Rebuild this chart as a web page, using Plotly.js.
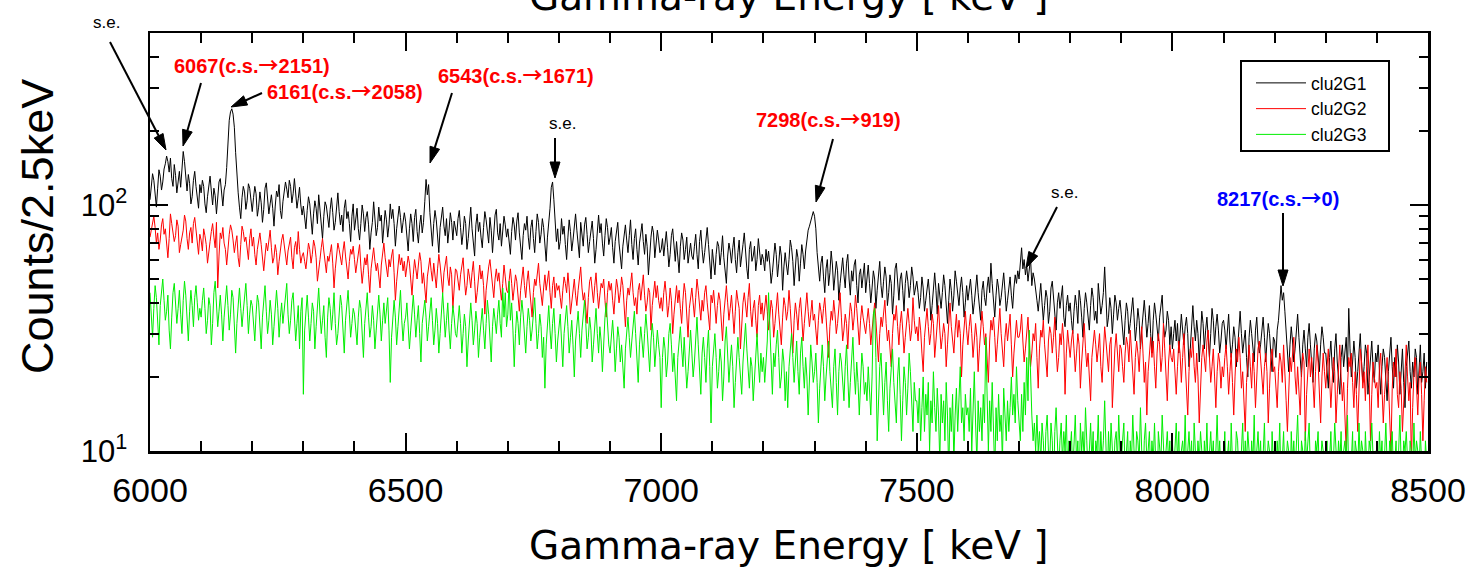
<!DOCTYPE html>
<html><head><meta charset="utf-8">
<script src="https://cdn.plot.ly/plotly-3.0.1.min.js"></script>
<style>html,body{margin:0;padding:0;background:#fff;}#chart{width:1474px;height:570px;}</style>
</head><body><div id="chart"></div>
<script>
// ---- data: counts per 2.5 keV bin ----
const binStartKeV = 6000;
const binWidthKeV = 2.5;
const seriesNames = ['clu2G1', 'clu2G2', 'clu2G3'];
const seriesColors = ['#000000', '#ff0000', '#00ee00'];

const clu2G1 = [
105,121,134,126,110,98,117,139,131,115,124,140,147,158,150,136,155,128,119,146,132,112,124,137,118,145,165,150,127,114,133,122,101,108,126,137,119,104,97,121,
112,126,119,101,93,108,123,131,114,100,117,109,92,105,124,128,111,99,115,121,142,183,221,239,246,234,207,163,130,112,98,88,107,119,113,96,104,122,117,101,
94,107,119,111,90,98,113,102,85,96,117,123,105,92,101,110,97,82,99,114,108,121,95,88,103,112,124,116,107,126,119,102,111,128,109,97,106,118,100,91,
99,87,80,95,108,101,89,76,92,104,97,84,110,95,86,73,90,103,99,88,81,96,107,93,79,85,100,112,94,83,91,78,97,105,88,94,84,71,90,101,
79,87,97,80,72,84,100,92,78,89,94,83,66,77,85,103,90,75,81,98,86,91,70,79,95,87,74,83,101,88,96,84,68,80,92,99,89,77,85,93,
86,74,65,80,92,84,71,89,96,78,70,83,91,77,85,103,127,110,121,93,79,68,84,95,87,73,64,81,90,98,82,75,88,70,79,93,85,72,86,80,
75,88,95,81,69,77,90,84,66,73,86,98,80,71,62,83,92,78,85,74,67,81,94,87,76,70,89,79,64,82,91,96,77,72,84,68,79,90,83,74,
80,71,63,78,89,83,72,86,93,77,68,60,75,84,79,90,74,66,81,87,73,64,78,92,85,70,76,88,81,67,59,74,83,97,118,124,105,86,71,80,
66,71,88,76,82,69,60,74,87,78,65,72,81,92,79,70,61,85,74,68,83,89,76,64,71,80,86,73,58,66,79,91,77,84,70,62,75,88,81,69,
74,81,67,58,71,79,85,70,62,55,68,77,83,72,64,75,87,69,60,73,80,66,57,70,78,84,71,63,76,68,52,65,74,82,77,61,69,79,72,64,
66,73,62,70,78,67,56,63,75,80,65,59,71,61,53,68,77,72,60,66,74,58,64,70,62,60,68,76,63,55,71,79,66,58,64,74,81,69,57,50,
66,59,52,63,71,68,57,64,75,61,54,48,62,70,65,58,67,74,60,53,64,72,56,61,69,77,63,55,50,66,71,59,62,68,54,60,73,65,57,63,
60,54,66,59,65,57,48,53,61,70,63,51,58,68,62,45,56,64,57,52,60,72,67,59,47,54,66,61,49,58,69,63,55,65,73,79,82,86,90,94,
90,80,64,56,49,58,62,51,44,55,60,47,53,65,57,45,50,59,54,41,48,56,61,52,46,58,63,50,43,54,49,57,60,47,40,52,55,46,51,58,
44,52,57,48,40,46,54,50,38,45,53,59,47,42,49,56,51,39,44,52,48,36,43,55,58,46,41,50,53,45,37,48,54,49,42,47,56,51,43,46,
49,44,38,42,51,46,37,41,45,50,43,34,39,47,53,45,36,48,42,38,44,52,47,40,33,41,50,45,37,43,54,49,42,39,46,51,44,35,40,47,
41,46,50,43,36,40,47,52,44,38,34,45,49,42,39,46,51,44,58,48,40,35,43,50,46,39,42,48,53,45,37,41,47,51,43,38,46,52,48,54,
50,58,67,55,60,52,57,49,56,61,47,53,50,44,41,37,44,48,40,34,39,45,42,33,37,46,49,41,36,31,40,44,38,42,47,35,32,39,43,37,
40,34,30,37,43,39,33,45,41,35,29,38,44,40,36,31,39,46,42,34,37,33,48,41,36,39,44,56,40,32,35,42,38,30,36,43,40,34,38,41,
36,31,27,34,40,37,30,33,39,42,35,28,32,38,34,26,31,37,41,35,29,33,39,30,25,34,40,36,32,28,35,38,43,33,29,31,37,34,27,32,
26,30,34,28,33,25,29,36,31,27,32,35,30,22,26,31,39,32,28,34,30,23,29,37,33,26,31,35,29,24,30,38,34,27,32,36,31,25,28,33,
34,31,26,30,36,28,24,27,32,29,22,26,33,37,30,25,28,31,24,20,29,34,30,27,23,31,35,28,25,27,32,35,29,23,28,33,30,25,21,29,
28,24,31,34,40,47,41,44,37,30,25,21,27,32,28,23,26,30,36,29,24,20,27,31,26,22,29,33,27,23,19,26,30,28,24,21,27,32,29,25,
25,21,18,24,28,22,19,26,30,23,20,17,24,27,22,25,29,21,38,26,20,23,28,24,18,21,26,30,23,19,22,27,25,17,20,24,28,22,19,25,
23,27,20,17,22,26,24,19,16,21,25,29,22,18,24,20,27,23,17,21,26,19,15,22,25,28,21,18,23,20,26,24,17,22,27,19,21,25,18,23
];

const clu2G2 = [
74,79,85,90,81,70,77,66,72,83,88,76,80,68,61,73,92,84,78,71,75,87,82,64,69,74,79,91,86,73,66,77,81,70,84,89,80,72,63,76,
72,65,80,75,69,58,63,71,78,84,74,67,85,46,62,77,73,81,70,66,57,68,76,83,79,72,64,70,75,61,56,69,82,78,71,74,67,60,73,80,
68,74,63,57,66,71,77,69,60,54,62,70,65,73,79,67,58,61,69,64,52,59,66,72,76,68,63,57,65,70,74,61,55,67,71,63,78,66,58,62,
64,59,55,62,70,66,58,63,72,68,61,49,56,60,67,73,65,57,53,62,59,64,69,58,46,55,63,70,66,60,57,65,71,62,54,50,59,66,63,68,
60,53,58,65,69,56,48,54,61,57,63,52,44,55,62,67,59,54,58,50,46,57,64,70,61,55,51,60,56,62,66,53,41,49,58,63,57,61,54,59,
51,56,62,58,47,43,52,60,55,50,57,64,59,48,53,45,40,51,56,61,54,49,58,52,46,55,63,57,50,44,53,59,62,51,47,56,52,38,49,55,
54,48,45,52,58,61,50,43,47,55,51,46,53,59,49,40,44,52,57,50,54,47,36,45,51,56,60,52,48,42,50,55,49,53,46,41,48,57,51,45,
44,50,55,48,41,46,52,49,43,37,45,51,56,47,42,49,54,46,40,35,44,50,47,53,58,48,43,39,46,52,45,49,54,44,38,47,51,42,48,45,
47,42,38,45,51,48,44,53,46,36,41,47,50,43,39,45,52,56,46,41,44,37,33,42,49,51,45,40,47,53,44,38,43,48,46,50,41,35,44,49,
45,48,41,36,43,50,46,40,44,51,47,38,32,41,46,43,49,53,44,39,42,36,45,48,41,47,52,43,37,40,46,44,31,39,45,49,42,47,41,38,
42,37,44,49,43,35,39,46,41,30,36,42,47,40,45,38,33,41,48,44,37,29,38,43,46,40,35,42,50,45,39,34,41,37,44,47,40,36,31,43,
40,45,37,33,39,44,41,35,28,36,42,47,40,34,38,43,36,30,37,45,41,38,26,33,40,44,39,35,42,48,37,32,38,41,34,29,39,43,36,40,
34,39,43,37,31,35,41,38,29,33,40,44,36,30,27,35,42,39,34,37,45,38,32,25,34,40,36,31,38,42,35,28,33,39,44,37,32,36,41,34,
36,31,27,34,40,37,33,38,42,35,29,24,32,37,34,41,36,30,33,39,44,35,28,31,36,33,26,34,40,37,31,35,43,38,30,27,34,39,35,32,
30,34,38,33,27,31,36,40,34,29,23,30,35,32,37,41,33,28,31,26,22,30,36,34,39,32,27,33,37,31,25,29,35,38,33,28,31,42,34,30,
32,28,35,31,25,21,29,34,38,32,27,30,36,33,24,28,34,39,31,26,29,33,30,22,27,35,40,32,28,25,31,36,29,34,30,20,27,33,37,31,
27,32,36,30,24,28,33,29,21,26,31,37,32,27,30,25,19,28,34,31,35,29,23,27,32,38,30,26,22,29,33,28,31,36,27,20,25,30,34,29,
29,31,36,28,23,26,32,35,27,22,25,30,28,33,24,18,26,31,29,34,27,23,20,28,32,30,25,29,35,26,21,24,30,27,33,28,17,25,31,27,
24,28,31,26,21,25,30,27,18,23,29,33,26,22,25,20,16,24,28,31,27,23,26,30,22,19,25,32,28,24,21,27,29,15,22,26,30,25,21,27,
26,22,19,25,29,27,23,31,26,20,17,24,28,25,21,27,32,25,19,23,14,21,26,29,24,28,22,18,25,30,27,21,24,33,26,20,16,23,27,24,
23,26,21,17,22,28,25,19,24,30,23,18,14,21,26,24,29,22,19,25,20,13,18,24,27,23,21,28,31,24,19,22,26,20,15,21,25,23,18,22,
20,24,27,22,17,21,25,19,14,20,26,23,29,24,18,21,16,12,19,24,27,22,18,25,21,15,20,26,28,23,19,17,22,25,21,13,18,24,26,21,
22,18,15,21,25,23,19,27,22,16,12,19,24,21,26,29,20,17,22,18,14,21,25,23,11,17,22,26,20,24,19,15,21,27,23,18,13,20,25,21,
18,22,26,20,15,19,24,21,13,17,23,27,20,16,19,14,10,18,24,22,25,19,15,21,17,12,20,26,23,18,21,16,22,27,19,11,17,23,20,18,
19,15,22,25,18,13,17,21,24,19,14,10,18,23,20,26,17,15,21,18,12,16,22,27,20,16,19,9,15,21,24,18,14,20,23,17,11,16,22,19
];

const clu2G3 = [
44,36,29,38,47,42,33,27,39,46,50,41,34,37,43,31,26,35,44,48,40,33,38,45,36,30,41,49,43,35,28,37,45,39,32,42,47,40,34,38,
35,41,46,38,30,34,42,39,27,33,44,49,40,32,37,43,36,28,35,41,47,39,31,36,45,42,34,25,33,40,46,38,32,37,43,48,39,30,36,41,
39,33,28,36,43,40,31,26,35,42,47,37,30,34,41,36,27,32,39,45,38,29,35,40,33,37,42,48,36,30,34,41,44,35,28,33,39,26,37,42,
17,31,38,43,35,28,33,40,37,26,32,41,46,36,30,34,39,29,24,35,42,38,31,36,44,33,27,30,37,43,39,32,25,34,40,45,36,29,33,38,
36,31,27,35,41,38,30,24,33,40,44,35,29,32,39,34,26,31,37,43,36,28,34,40,33,38,42,31,19,29,36,41,35,27,32,39,45,34,28,33,
35,40,32,26,31,38,43,36,29,34,39,30,23,33,37,41,35,28,32,36,42,34,27,31,38,33,25,30,37,44,36,29,34,40,31,26,33,39,35,30,
29,34,39,33,25,30,36,32,22,28,35,40,34,27,31,37,33,24,29,35,38,31,26,33,41,36,29,23,32,38,34,30,36,41,33,29,46,35,44,32,
36,49,34,40,31,22,30,37,33,27,35,41,36,29,25,32,38,34,28,31,37,42,33,26,30,36,32,24,29,18,27,34,39,31,26,33,38,30,23,28,
31,36,28,22,30,35,39,32,25,29,34,27,20,28,33,37,30,24,31,36,41,33,26,29,35,31,23,27,34,38,30,25,32,28,21,30,35,40,33,27,
25,30,34,28,21,26,32,29,23,27,22,18,26,31,35,29,24,28,33,37,30,23,19,27,32,28,24,30,36,31,25,21,28,33,29,22,26,31,27,24,
15,24,29,26,20,23,30,33,27,21,25,19,16,24,28,32,26,22,29,24,18,21,27,31,25,20,23,30,35,27,22,17,25,29,24,19,26,31,22,13,
22,27,30,24,18,21,26,23,16,20,28,32,25,19,23,27,22,15,19,25,29,24,20,17,23,28,33,26,21,18,24,22,16,20,27,30,23,19,25,21,
24,19,23,28,44,30,21,17,25,22,27,31,24,18,20,26,23,16,21,15,22,27,30,24,19,23,28,21,17,25,29,22,18,24,20,14,22,27,23,19,
21,25,19,13,18,23,27,22,16,20,24,28,21,17,15,22,26,19,14,21,25,23,18,16,22,27,20,15,19,24,29,21,17,23,19,14,20,25,22,17,
19,16,22,17,14,20,36,38,24,11,17,22,25,18,14,19,23,16,12,18,21,26,19,15,13,20,24,17,11,16,22,19,14,18,25,21,15,12,19,16,
16,13,18,11,15,20,12,17,14,19,10,16,13,21,15,12,18,14,9,17,13,16,11,19,14,8,15,12,17,9,14,18,12,16,22,13,15,11,17,14,
15,12,18,10,14,21,13,9,16,12,15,11,17,13,29,14,10,16,12,19,13,8,15,11,17,12,14,9,18,13,11,16,12,15,20,14,17,13,22,16,
13,11,17,12,19,14,24,16,31,20,14,11,13,10,14,10,12,9,13,11,8,12,14,10,9,13,11,7,12,15,10,8,11,13,9,12,10,14,8,11,
10,12,8,11,14,9,11,7,13,10,12,9,15,11,8,10,13,9,12,6,11,10,14,8,12,9,11,16,10,7,12,9,13,10,8,11,12,9,14,10,
9,11,13,8,10,12,7,11,9,14,10,8,12,11,9,15,10,7,11,13,9,10,12,8,11,9,13,10,6,12,10,9,14,11,8,10,12,9,11,8,
11,8,10,13,9,12,7,10,11,9,14,8,10,12,9,11,7,13,10,8,11,9,12,10,6,11,9,13,8,10,12,9,11,7,10,14,9,11,8,10,
9,12,8,10,11,7,13,9,10,8,12,11,9,6,10,13,8,11,9,12,10,7,11,9,14,8,10,12,9,11,7,10,13,8,9,11,10,6,12,9,
10,8,11,9,13,7,10,12,8,9,11,10,6,12,9,11,8,10,14,9,7,11,10,8,12,9,11,13,8,10,9,7,11,10,12,8,9,11,10,8,
9,11,7,10,12,8,9,13,10,8,11,9,12,7,10,11,9,14,8,10,9,12,6,11,10,8,13,9,11,10,7,12,9,8,11,10,13,9,7,10,
10,8,12,9,11,7,10,13,9,8,11,10,12,8,9,11,7,10,14,9,8,11,10,12,9,7,11,10,8,13,9,11,10,8,12,9,10,7,11,9
];

const xTickVals = [6000, 6500, 7000, 7500, 8000, 8500];
const yTickVals = [10, 100];
const yTickText = ['10<sup>1</sup>', '10<sup>2</sup>'];
const yMinorVals = [20, 30, 40, 50, 60, 70, 80, 90, 200, 300, 400];

// peak labels: text, colour, label centre (px), arrow tail (px), arrow tip (px)
const peakLabels = [
  {text: 's.e.', color: '#000000', bold: false, at: [106, 23], tail: [110, 42], tip: [166, 150]},
  {text: '6067(c.s.→2151)', color: '#ff0000', bold: true, at: [252, 64], tail: [201, 83], tip: [183, 146]},
  {text: '6161(c.s.→2058)', color: '#ff0000', bold: true, at: [345, 91], tail: [262, 93], tip: [231, 107]},
  {text: '6543(c.s.→1671)', color: '#ff0000', bold: true, at: [516, 75], tail: [452, 93], tip: [430, 163]},
  {text: 's.e.', color: '#000000', bold: false, at: [562, 124], tail: [555, 138], tip: [555, 178]},
  {text: '7298(c.s.→919)', color: '#ff0000', bold: true, at: [828, 118], tail: [833, 139], tip: [816, 202]},
  {text: 's.e.', color: '#000000', bold: false, at: [1064, 192], tail: [1057, 207], tip: [1026, 268]},
  {text: '8217(c.s.→0)', color: '#0000ff', bold: true, at: [1278, 197], tail: [1283, 213], tip: [1283, 286]}
];

// ---- layout geometry ----
const W = 1474, H = 570;
const L = 150, R = 1428, T = 33, B = 451;
const px = x => (x - L) / (R - L);
const py = y => (B - y) / (B - T);

const allSeries = [clu2G1, clu2G2, clu2G3];
const traces = allSeries.map((vals, k) => ({
  type: 'scatter', mode: 'lines', name: seriesNames[k],
  x: vals.map((_, i) => binStartKeV + binWidthKeV * i),
  y: vals,
  line: {color: seriesColors[k], width: 1}
}));

const arrowSpan = '<span style="font-family:\'Noto Sans CJK JP\'">→</span>';
const annotations = [];
const shapes = [];
peakLabels.forEach(p => {
  const t = p.text.replace('→', arrowSpan);
  annotations.push({
    xref: 'paper', yref: 'paper', x: px(p.at[0]), y: py(p.at[1]),
    xanchor: 'center', yanchor: 'middle', showarrow: false,
    text: p.bold ? '<b>' + t + '</b>' : t,
    font: {family: 'Liberation Sans, Arial, sans-serif', size: p.bold ? 20 : 17, color: p.color}
  });
  const [x1, y1] = p.tail, [x2, y2] = p.tip;
  const dx = x2 - x1, dy = y2 - y1, len = Math.hypot(dx, dy);
  const ux = dx / len, uy = dy / len;
  const hl = 16, hw = 5;
  const bx = x2 - ux * hl, by = y2 - uy * hl;
  shapes.push({type: 'line', xref: 'paper', yref: 'paper',
    x0: px(x1), y0: py(y1), x1: px(bx + ux * 2), y1: py(by + uy * 2),
    line: {color: '#000', width: 2}});
  const pA = [bx - uy * hw, by + ux * hw], pB = [bx + uy * hw, by - ux * hw];
  shapes.push({type: 'path', xref: 'paper', yref: 'paper',
    path: `M${px(x2)},${py(y2)} L${px(pA[0])},${py(pA[1])} L${px(pB[0])},${py(pB[1])} Z`,
    fillcolor: '#000', line: {color: '#000', width: 1}});
});

// legend frame
shapes.push({type: 'rect', xref: 'paper', yref: 'paper', layer: 'above',
  x0: px(1241), x1: px(1389), y0: py(151), y1: py(61),
  fillcolor: '#fff', line: {color: '#000', width: 2}});

const titleFont = {family: 'DejaVu Sans, sans-serif', size: 39, color: '#000'};
annotations.push({xref: 'paper', yref: 'paper', x: 0.5, y: py(545.8), xanchor: 'center', yanchor: 'middle',
  showarrow: false, text: 'Gamma-ray Energy [ keV ]', font: titleFont});
annotations.push({xref: 'paper', yref: 'paper', x: 0.5, y: py(-3.5), xanchor: 'center', yanchor: 'middle',
  showarrow: false, text: 'Gamma-ray Energy [ keV ]', font: titleFont});
annotations.push({xref: 'paper', yref: 'paper', x: px(37), y: py(227), xanchor: 'center', yanchor: 'middle',
  showarrow: false, textangle: -90, text: 'Counts/2.5keV', font: {family: 'Liberation Sans, Arial, sans-serif', size: 45, color: '#000'}});

const layout = {
  width: W, height: H,
  margin: {l: L, r: W - R, t: T, b: H - B, pad: 0},
  paper_bgcolor: '#fff', plot_bgcolor: '#fff',
  showlegend: true,
  legend: {x: px(1251), y: py(65), xanchor: 'left', yanchor: 'top',
    bgcolor: 'rgba(0,0,0,0)', borderwidth: 0, itemwidth: 50,
    font: {family: 'Liberation Sans, Arial, sans-serif', size: 17.5, color: '#000'}},
  xaxis: {
    range: [6000, 8500], tickmode: 'array', tickvals: xTickVals,
    ticks: 'inside', ticklen: 18, tickwidth: 2, tickcolor: '#000',
    showline: true, linecolor: '#000', linewidth: 2.5, mirror: 'ticks',
    showgrid: false, zeroline: false,
    tickfont: {family: 'Liberation Sans, Arial, sans-serif', size: 34, color: '#000'},
    ticklabelstandoff: 8,
    minor: {dtick: 100, tick0: 6000, ticks: 'inside', ticklen: 10, tickwidth: 2, tickcolor: '#000', showgrid: false}
  },
  yaxis: {
    type: 'log', range: [1, Math.log10(500)], tickmode: 'array', tickvals: yTickVals, ticktext: yTickText,
    ticks: 'inside', ticklen: 18, tickwidth: 2, tickcolor: '#000',
    showline: true, linecolor: '#000', linewidth: 2.5, mirror: 'ticks',
    showgrid: false, zeroline: false,
    tickfont: {family: 'Liberation Sans, Arial, sans-serif', size: 31, color: '#000'},
    ticklabelstandoff: 14,
    minor: {tickmode: 'array', tickvals: yMinorVals, ticks: 'inside', ticklen: 9, tickwidth: 2, tickcolor: '#000', showgrid: false}
  },
  annotations: annotations,
  shapes: shapes
};

const bad = allSeries.map((s, k) => seriesNames[k] + ':' + s.length).filter(s => !s.endsWith(':1000'));
if (bad.length) layout.annotations.push({xref: 'paper', yref: 'paper', x: 0.5, y: 0.5, showarrow: false, text: 'LEN ' + bad.join(' '), font: {size: 30, color: 'blue'}});

Plotly.newPlot('chart', traces, layout, {displayModeBar: false, staticPlot: true});
</script>
</body></html>
